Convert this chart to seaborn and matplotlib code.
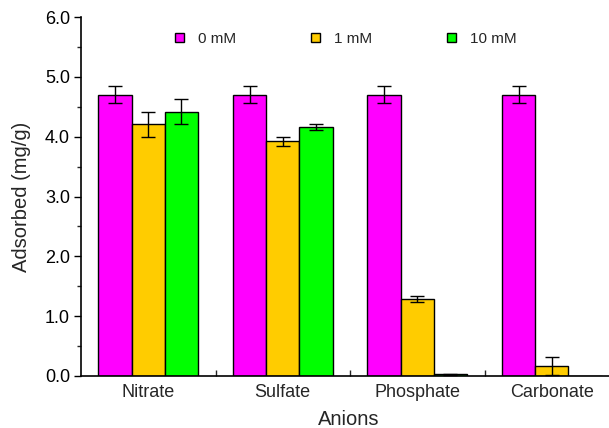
import matplotlib
matplotlib.use("Agg")
import matplotlib.pyplot as plt
import matplotlib.ticker as mticker
from matplotlib.patches import Patch
import seaborn as sns
import pandas as pd
import numpy as np

anions = ["Nitrate", "Sulfate", "Phosphate", "Carbonate"]
concentrations = ["0 mM", "1 mM", "10 mM"]
vals_0mM = [4.70, 4.70, 4.70, 4.70]
vals_1mM = [4.21, 3.92, 1.29, 0.16]
vals_10mM = [4.42, 4.16, 0.03, 0.0]
err_0mM = [0.14, 0.14, 0.14, 0.14]
err_1mM = [0.21, 0.07, 0.055, 0.15]
err_10mM = [0.21, 0.055, 0.01, 0.0]
colors = ["#FF00FF", "#FFCC00", "#00FF00"]

rows = []
for conc, vals, errs in zip(concentrations, [vals_0mM, vals_1mM, vals_10mM],
                            [err_0mM, err_1mM, err_10mM]):
    for a, v, e in zip(anions, vals, errs):
        rows.append({"Anion": a, "Conc": conc, "Value": v, "Err": e})
df = pd.DataFrame(rows)

sns.set_theme(style="ticks")
plt.rcParams["font.family"] = ["Liberation Sans", "DejaVu Sans"]

fig = plt.figure(figsize=(6.09, 4.28), dpi=100)
ax = fig.add_axes([81 / 609, 1 - 376 / 428, (619 - 81) / 609, (376 - 17) / 428])

sns.barplot(data=df, x="Anion", y="Value", hue="Conc", order=anions,
            hue_order=concentrations, palette=colors, errorbar=None,
            width=0.74, edgecolor="black", linewidth=1.0, saturation=1,
            legend=False, ax=ax)

# error bars at bar centres
bars = [p for p in ax.patches]
for i, conc in enumerate(concentrations):
    sub = df[df.Conc == conc].set_index("Anion").loc[anions]
    for j, a in enumerate(anions):
        p = bars[i * len(anions) + j]
        xc = p.get_x() + p.get_width() / 2
        h = p.get_height()
        e = sub.loc[a, "Err"]
        if e > 0:
            ax.errorbar(xc, h, yerr=e, fmt="none", ecolor="black",
                        elinewidth=1.0, capsize=5, capthick=1.0)

ax.set_xlim(-0.5, 3.5)
ax.set_ylim(0, 6)
ax.yaxis.set_major_locator(mticker.MultipleLocator(1))
ax.yaxis.set_minor_locator(mticker.MultipleLocator(0.5))
ax.yaxis.set_major_formatter(mticker.FormatStrFormatter("%.1f"))
ax.xaxis.set_minor_locator(mticker.FixedLocator([0.5, 1.5, 2.5]))
ax.tick_params(axis="y", which="major", direction="out", length=5, width=1,
               labelsize=13, colors="black", pad=3)
ax.tick_params(axis="y", which="minor", direction="out", length=3, width=1)
ax.tick_params(axis="x", which="major", length=0, labelsize=13, pad=6)
ax.tick_params(axis="x", which="minor", direction="in", length=4, width=1)
for s in ["top", "right"]:
    ax.spines[s].set_visible(False)
for s in ["left", "bottom"]:
    ax.spines[s].set_linewidth(1.2)
    ax.spines[s].set_color("black")

ax.set_xlabel("Anions", fontsize=14.5)
ax.set_ylabel("Adsorbed (mg/g)", fontsize=14.5, labelpad=10)
ax.xaxis.set_label_coords((349 - 81) / (619 - 81), -0.06 - 12 / 359)

handles = [Patch(facecolor=c, edgecolor="black", linewidth=1.0) for c in colors]
fig.legend(handles, concentrations, loc="center", ncol=3, frameon=False,
           bbox_to_anchor=(346 / 609, 1 - 39 / 428), fontsize=11,
           handlelength=0.6, handleheight=0.6, handletextpad=0.9,
           columnspacing=4.9)

fig.savefig("out.png", dpi=100)
